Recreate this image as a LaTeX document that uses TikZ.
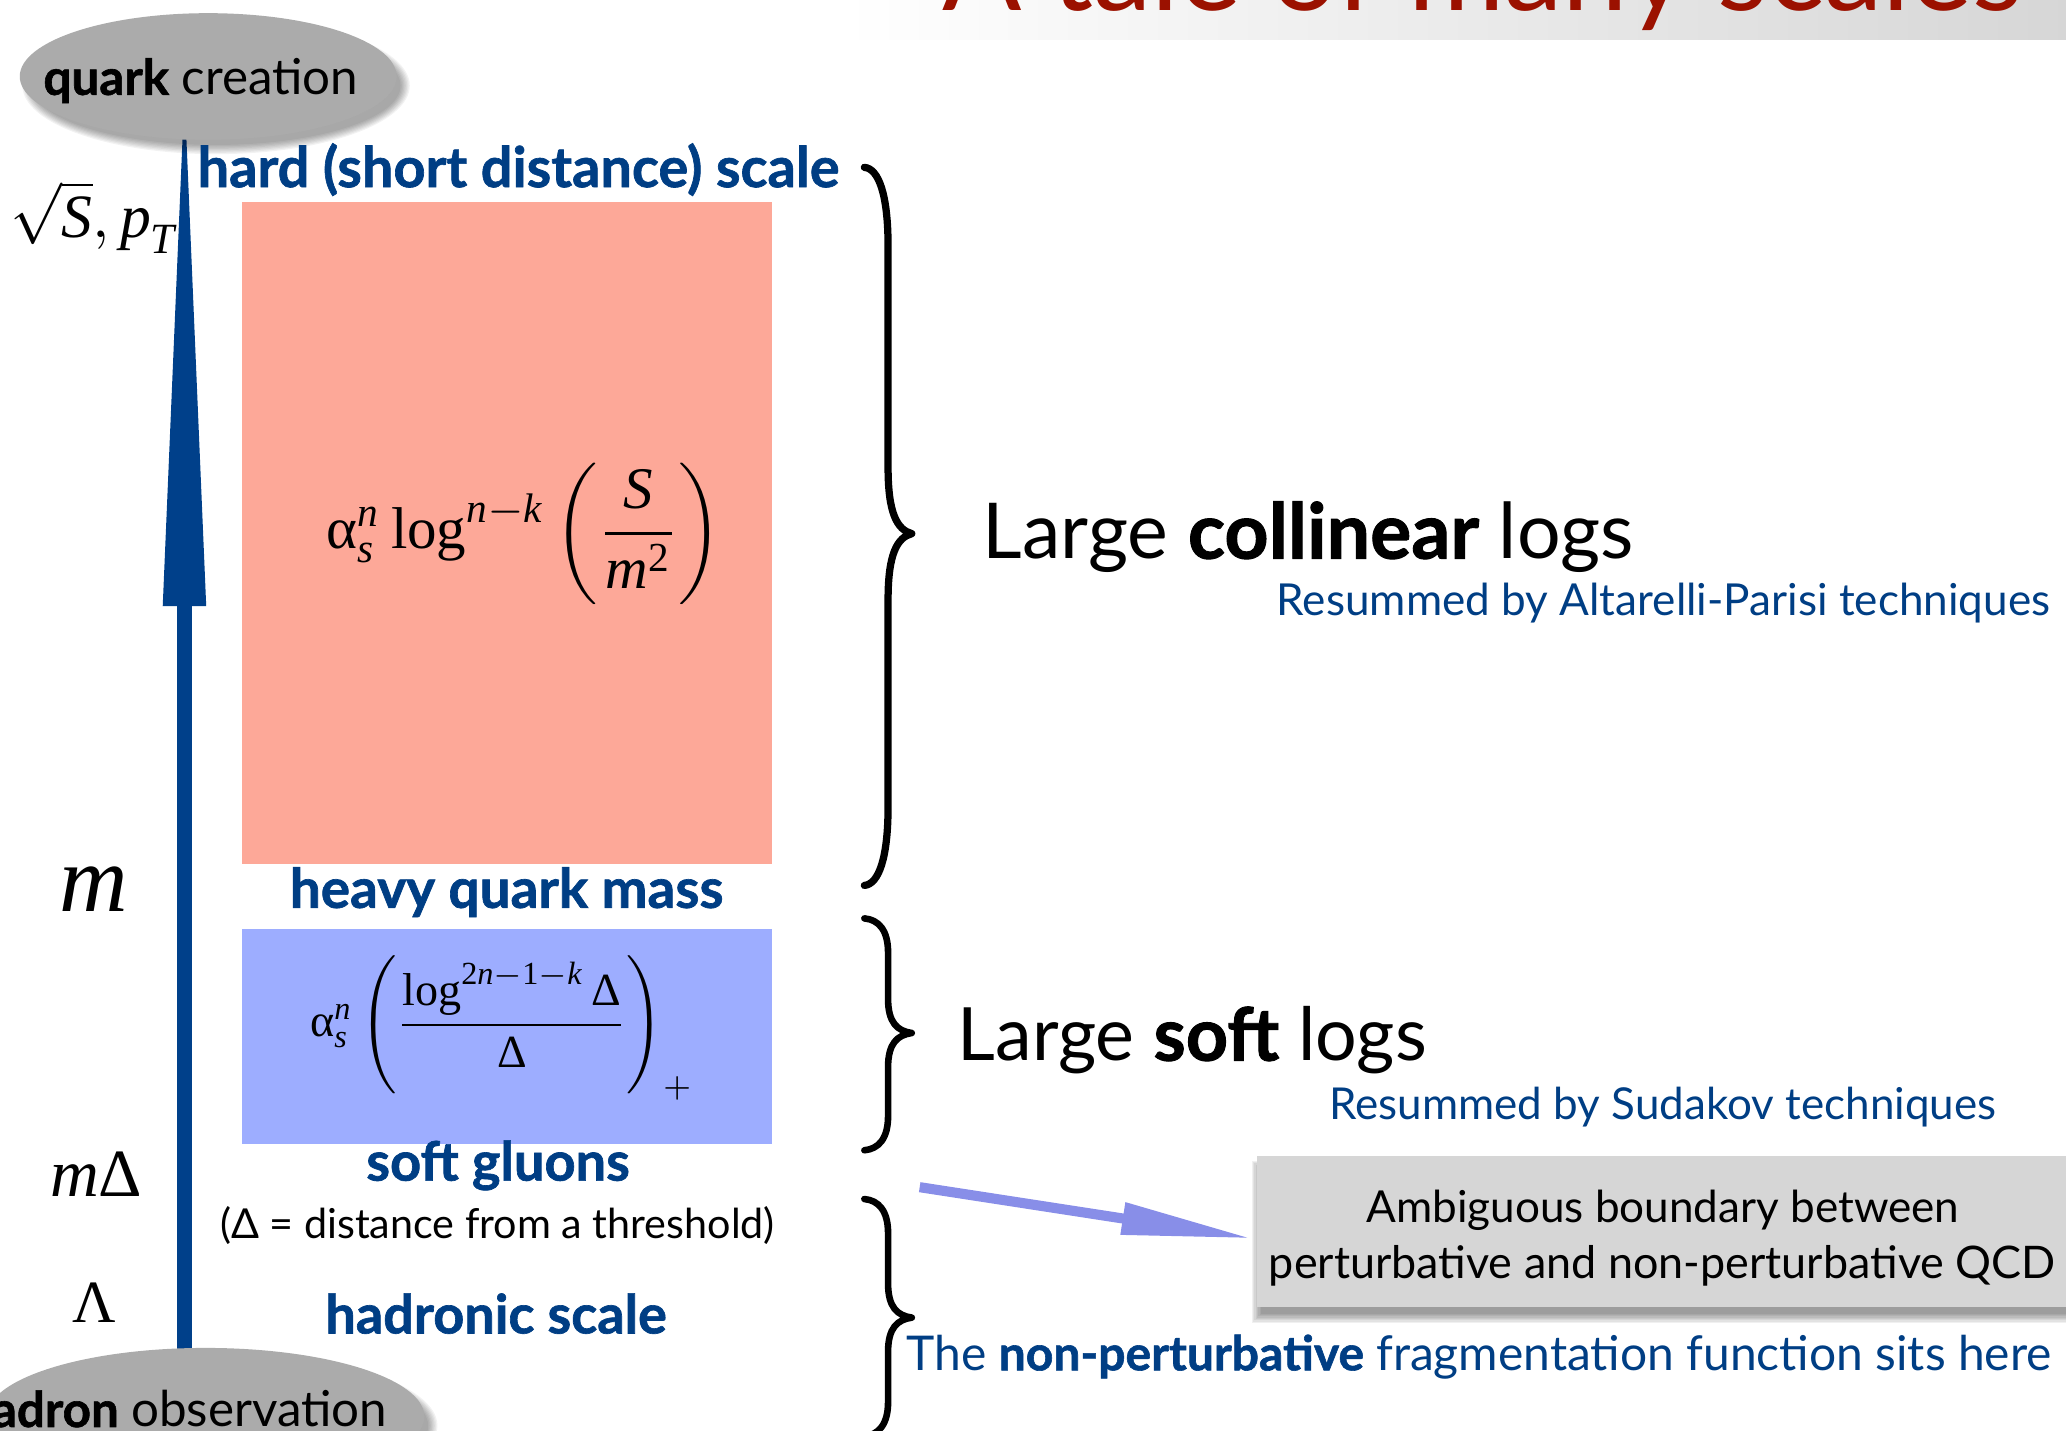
\documentclass[tikz,border=0pt]{standalone}
\usepackage{amsmath}
\usepackage[no-math]{fontspec}
\setmainfont{Lato}[BoldFeatures={FakeBold=1.2}]
\newfontfamily\tnr{Liberation Serif}
\usepackage{graphicx}
\usetikzlibrary{arrows.meta,calc,shapes.geometric,backgrounds}

\definecolor{hdblue}{RGB}{0,62,132}
\definecolor{arrblue}{RGB}{0,64,138}
\definecolor{salmonc}{RGB}{253,168,152}
\definecolor{softblue}{RGB}{157,173,255}
\definecolor{lav}{RGB}{136,142,232}
\definecolor{ttlred}{RGB}{155,17,0}
\definecolor{ellgray}{RGB}{171,171,171}
\definecolor{boxgray}{RGB}{214,214,214}

\newlength\uu \setlength\uu{0.6pt}
\newcommand\fitw[2]{\resizebox{#1\uu}{!}{#2}}
\newcommand\talpha{\text{\tnr α}}
\newcommand\ti[1]{\text{\tnr\itshape #1}}
\newcommand\tu[1]{\text{\tnr #1}}
\newsavebox\qbox

% blurred shadow of an ellipse: cx, cy, rx, ry
\newcommand\ellshadow[4]{%
  \foreach \k in {0,...,7}{\fill[black,opacity=0.05] ({#1+6},{#2+7}) ellipse [x radius={#3+4-\k}, y radius={#4+4-\k}];}}
% blurred shadow of a rectangle: x0, y0, x1, y1
\newcommand\boxshadow[4]{%
  \foreach \k in {0,...,7}{\fill[black,opacity=0.06] ({#1-4+\k},{#2+4+\k}) rectangle ({#3+4-\k},{#4+12-\k});}}

\newcommand\drawbrace[6]{%
  \draw[line width=#6,line cap=round,line join=round]
    (656,#1) .. controls (667,{#1+1}) and (674,{#1+0.35*#4}) .. (674,{#1+#4})
    -- (674,{#2-#5}) .. controls (674,{#2-0.3*#5}) and (681,{#2-0.06*#5}) .. (692,#2)
    .. controls (681,{#2+0.06*#5}) and (674,{#2+0.3*#5}) .. (674,{#2+#5})
    -- (674,{#3-#4}) .. controls (674,{#3-0.35*#4}) and (667,{#3-1}) .. (656,#3);}

\begin{document}
\sbox\qbox{\textbf{quark} creation}%
\pgfmathsetmacro\qscale{143.4/\the\wd\qbox}%
\begin{tikzpicture}[x=0.6pt,y=-0.6pt,
  every node/.style={inner sep=0pt,outer sep=0pt},
  lbl/.style={anchor=base west},
  bluelbl/.style={anchor=base west,text=hdblue},
  ellnode/.style={ellipse,fill=ellgray},
]
\useasboundingbox (0,0) rectangle (1568,1086);
\clip (0,0) rectangle (1568,1086);

% title banner
\shade[left color=white,right color=gray!32] (640,0) rectangle (1568,30);
\node[anchor=base west,text=ttlred] (title) at (715,8) {\fitw{820}{A tale of many scales}};

% coloured regions
\node[fill=salmonc,minimum width=241.2pt,minimum height=301.8pt] (hardbox) at (385,404.5) {};
\node[fill=softblue,minimum width=241.2pt,minimum height=97.8pt] (softbox) at (385,786.5) {};

% formulas
\node (f1) at (398,405) {\fitw{300}{$\talpha_{\ti{s}}^{\ti{n}}\,\tu{log}^{\ti{n}-\ti{k}}\left(\dfrac{\ti{S}}{\ti{m}^{\tu{2}}}\right)$}};
\node (f2) at (381,780) {\fitw{291}{$\talpha_{\ti{s}}^{\ti{n}}\left(\dfrac{\tu{log}^{\tu{2}\ti{n}-\tu{1}-\ti{k}}\,\tu{Δ}}{\tu{Δ}}\right)_{+}$}};

% ellipses with soft shadows
\ellshadow{158}{58}{143}{48}
\ellshadow{156}{1075}{166}{52}
\node[ellnode,minimum width=171.6pt,minimum height=57.6pt] (quark) at (158,58) {};
\node[ellnode,minimum width=199.2pt,minimum height=62.4pt] (hadron) at (156,1075) {};

% vertical scale arrow
\coordinate (hb) at (140,460);
\begin{pgfonlayer}{background}
\draw[arrblue,line width=6.6pt] (hb |- hadron.center) -- (hb);
\fill[arrblue] ($(hb)+(-16.5,0)$) -- ($(hb)+(16.5,0)$) -- ($(hb |- quark.south)+(1.5,0)$) -- ($(hb |- quark.south)+(-1.5,0)$) -- cycle;
\end{pgfonlayer}

% ellipse labels
\node[lbl] (quarklbl) at (33,72) {\scalebox{\qscale}{\textbf{quark} creation}};
\node[anchor=base east] (hadronlbl) at (294,1083) {\scalebox{\qscale}{\textbf{hadron} observation}};

% scale symbols
\node[lbl] (sqrtS) at (8,180) {\fitw{127}{$\sqrt{\ti{S}},\ti{p}_{\ti{T}}$}};
\node[lbl] (mlbl) at (45,692) {\fitw{52}{\tnr\itshape m}};
\node[lbl] (mdlbl) at (38,908) {\fitw{70}{\tnr{\itshape m}Δ}};
\node[lbl] (lamlbl) at (55,1004) {\fitw{33}{\tnr Λ}};

% scale names
\node[bluelbl] (hard) at (150,142) {\fitw{487}{\bfseries hard (short distance) scale}};
\node[bluelbl] (heavy) at (220,689) {\fitw{329}{\bfseries heavy quark mass}};
\node[bluelbl] (softg) at (278,896) {\fitw{200}{\bfseries soft gluons}};
\node[lbl] (delta) at (167,940) {\fitw{421}{(Δ = distance from a threshold)}};
\node[bluelbl] (hadronic) at (247,1012) {\fitw{259}{\bfseries hadronic scale}};

% braces
\drawbrace{127}{405}{672}{60}{50}{3.3pt}
\drawbrace{697}{784}{873}{26}{26}{3pt}
\drawbrace{910}{1000}{1090}{26}{26}{3pt}

% right-hand texts
\node[lbl] (coll) at (746,424) {\fitw{494}{Large \textbf{collinear} logs}};
\node[bluelbl] (ap) at (969,467) {\fitw{587}{Resummed by Altarelli-Parisi techniques}};
\node[lbl] (softl) at (727,805) {\fitw{356}{Large \textbf{soft} logs}};
\node[bluelbl] (sud) at (1009,850) {\fitw{506}{Resummed by Sudakov techniques}};

% ambiguous boundary box
\boxshadow{954}{877}{1575}{992}
\node[fill=boxgray,minimum width=372.6pt,minimum height=69pt] (amb) at (1264.5,934.5) {};
\node[anchor=base] (amb1) at (1262,928) {\fitw{450}{Ambiguous boundary between}};
\node[lbl] (amb2) at (963,970) {\fitw{597}{perturbative and non-perturbative QCD}};

\coordinate (lstart) at (698,901);
\draw[lav,line width=4.6pt,-{Triangle[length=60pt,width=13.7pt]}] (lstart) -- ($(amb.west)+(-3,5.5)$);

\node[bluelbl] (np) at (688,1040) {\fitw{869}{The \textbf{non-perturbative} fragmentation function sits here}};
\end{tikzpicture}
\end{document}
